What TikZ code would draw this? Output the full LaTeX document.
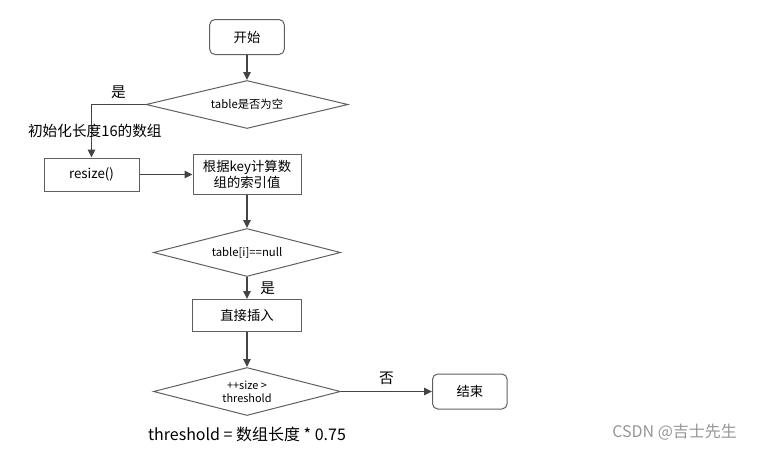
\documentclass[tikz,border=0pt]{standalone}
\usepackage{fontspec}
\setmainfont{Noto Sans CJK SC}
\usetikzlibrary{positioning, shapes.geometric, arrows.meta}
\definecolor{edge}{RGB}{68,68,68}
\definecolor{frame}{RGB}{95,95,95}
\definecolor{wmgray}{RGB}{150,150,150}
\tikzstyle{terminal}=[rectangle, rounded corners=4pt, draw=frame, line width=.75pt, minimum width=56pt, minimum height=26.25pt, inner sep=0pt, font=\fontsize{10}{12}\selectfont]
\tikzstyle{process}=[rectangle, draw=frame, line width=.75pt, minimum height=24pt, inner sep=0pt, align=center, font=\fontsize{10}{12}\selectfont]
\tikzstyle{decision}=[diamond, aspect=4, draw=frame, line width=.75pt, minimum width=140.25pt, minimum height=36pt, inner sep=0pt, align=center, font=\fontsize{8.5}{10}\selectfont]
\tikzstyle{flow}=[draw=edge, line width=1.4pt, -{Triangle[length=6pt,width=5.5pt]}]
\tikzstyle{note}=[font=\fontsize{11}{13}\selectfont]

\begin{document}
\begin{tikzpicture}
            \useasboundingbox (0,0) rectangle (569.25pt,-337.5pt);
            %main column of the flow chart
            \node[terminal](start) at (185.25pt,-27.75pt){开始};
            \node[decision, below = 18.75pt of start, minimum width=151.5pt](empty){table是否为空};
            \node[process, below = 18.75pt of empty, minimum width=81pt, minimum height=30pt](index){根据key计算数\\组的索引值};
            \node[process, left = 39.75pt of index, minimum width=71.25pt, minimum height=24.75pt](resize){resize()};
            \node[decision, below = 24.75pt of index](slot){table[i]==null};
            \node[process, below = 16.5pt of slot, minimum width=81.75pt](insert){直接插入};
            \node[decision, below = 26.25pt of insert, font=\fontsize{8.2}{10}\selectfont](full){++size >\\threshold};
            \node[terminal, right = 68.25pt of full](stop){结束};
            \foreach \a/\b in {start/empty, index/slot, insert/full}{
                \draw[flow] (\a) -- (\b);
            }
            \draw[flow] (empty.west) -| node[pos=.25, above, note]{是} (resize.north);
            \draw[flow] (resize) -- (index);
            \draw[flow] (slot) -- node[right=6pt, note]{是} (insert);
            \draw[flow] (full.east) -- node[above=1pt, note]{否} (stop);
            %notes
            \node[note, above = 11pt of resize, xshift=2.5pt](init){初始化长度16的数组};
            \node[note, below = 5pt of full, font=\fontsize{12}{14}\selectfont](rule){threshold = 数组长度 * 0.75};
            \node[note, text=wmgray, font=\fontsize{12}{14}\selectfont](mark) at (506pt,-324pt){CSDN @吉士先生};
        \end{tikzpicture}
\end{document}
